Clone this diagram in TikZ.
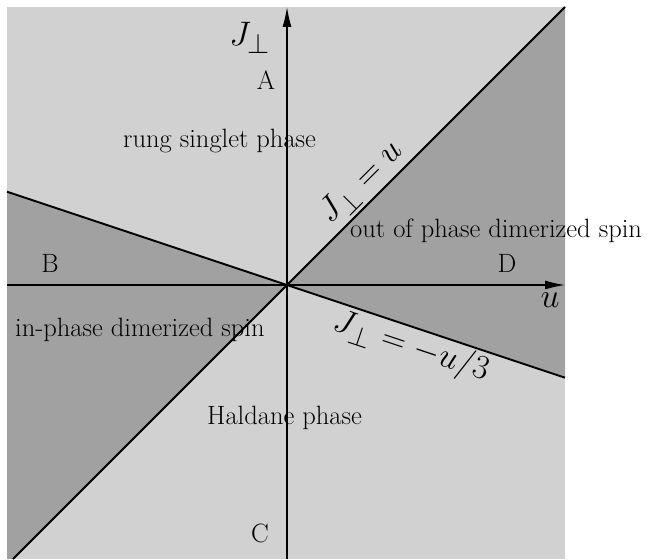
\documentclass[tikz,border=0pt]{standalone}
\usepackage{amsmath}
\usetikzlibrary{arrows.meta}
\definecolor{lightbg}{gray}{0.82}
\definecolor{darkbg}{gray}{0.63}
\tikzset{
  txt/.style={inner sep=0pt,font=\fontsize{26.5}{30}\selectfont},
  mth/.style={inner sep=0pt,font=\Huge,scale=1.366},
  axis/.style={line width=1.3pt,-{Latex[length=20pt,width=9pt]}},
  bound/.style={line width=1.9pt},
}
\begin{document}
\begin{tikzpicture}[x=1pt,y=-1pt]
\useasboundingbox (0,0) rectangle (671,559);
% frame corners
\coordinate (TL) at (7,7);
\coordinate (TR) at (565,7);
\coordinate (BR) at (565,559);
\coordinate (BL) at (7,559);
\coordinate (O) at (287,285);
\coordinate (Lu) at (13,559);
\coordinate (Ll) at (7,191.7);
\coordinate (Lr) at (565,377.7);
\coordinate (Xl) at (7,285);
\coordinate (Xr) at (565,285);
\coordinate (Yb) at (287,559);
\coordinate (Yt) at (287,7);
% backgrounds
\fill[lightbg] (TL) rectangle (BR);
\fill[darkbg] (O) -- (TR) -- (Lr) -- cycle;
\fill[darkbg] (O) -- (Ll) -- (BL) -- (Lu) -- cycle;
% phase boundaries
\draw[bound] (Lu) -- (O) -- (TR);
\draw[bound] (Ll) -- (O) -- (Lr);
% axes
\draw[axis] (Xl) -- (Xr);
\draw[axis] (Yb) -- (Yt);
% labels
\node[mth] (jlab) at (250,38) {$J_\perp$};
\node[mth] (ulab) at (550,300) {$u$};
\node[txt] (A) at (266,80) {A};
\node[txt] (B) at (50,263) {B};
\node[txt] (C) at (260,533) {C};
\node[txt] (D) at (507,263) {D};
\node[txt,anchor=base west] (rung) at (123,147) {rung singlet phase};
\node[txt,anchor=base west] (outp) at (350,237) {out of phase dimerized spin};
\node[txt,anchor=base west] (inp) at (15,336) {in-phase dimerized spin};
\node[txt,anchor=base west] (hald) at (207,424) {Haldane phase};
\node[mth,rotate=45] (l1) at (362,183) {$J_\perp = u$};
\node[mth,rotate=-18.43] (l2) at (411,347) {$J_\perp = -u/3$};
\end{tikzpicture}
\end{document}
